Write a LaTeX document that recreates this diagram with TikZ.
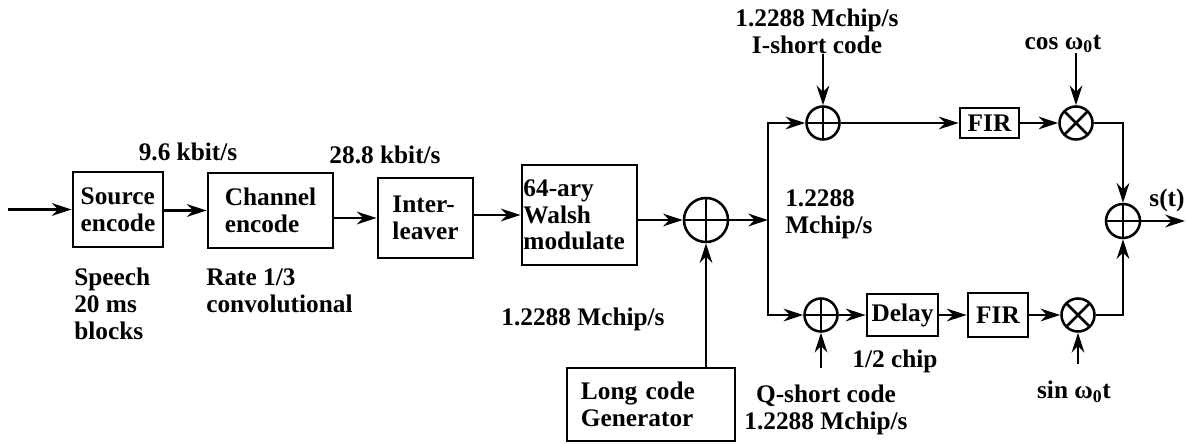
\documentclass[tikz,border=0pt]{standalone}
\usepackage{fontspec}
\setmainfont{Liberation Serif}
\usetikzlibrary{arrows.meta}

\begin{document}
\begin{tikzpicture}[
    x=0.025cm, y=-0.025cm,
    >={Stealth[length=14pt, width=9pt]},
    font=\fontsize{18}{19}\selectfont\bfseries,
    line/.style  = {line width=2pt},
    block/.style = {draw, line width=2pt, align=left, inner sep=2pt},
    lbl/.style   = {inner sep=0pt, align=center},
    adder/.style = {circle, draw, line width=1.8pt, minimum size=0.825cm, inner sep=0pt,
                    path picture={\draw[line width=1.8pt]
                      (path picture bounding box.north) -- (path picture bounding box.south)
                      (path picture bounding box.west) -- (path picture bounding box.east);}},
    mixer/.style = {circle, draw, line width=1.8pt, minimum size=0.825cm, inner sep=0pt,
                    path picture={\draw[line width=1.8pt]
                      (path picture bounding box.north west) -- (path picture bounding box.south east)
                      (path picture bounding box.south west) -- (path picture bounding box.north east);}}
]
\useasboundingbox (0,0) rectangle (1187,444);

% Speech path: source -> channel coder -> interleaver -> Walsh
\node[block, minimum width=2.25cm, minimum height=1.875cm] (src) at (118,209.5) {Source\\encode};
\node[block, minimum width=3.125cm, minimum height=1.875cm] (chan) at (270.5,210.5) {Channel\\encode};
\node[block, minimum width=2.375cm, minimum height=2cm] (inter) at (425.5,218) {Inter-\\leaver};
\node[block, minimum width=2.875cm, minimum height=2.5cm, text width=2.8cm, inner xsep=1pt] (walsh) at (579.5,215) {64-ary\\Walsh\\modulate};
\node[adder, minimum size=1.1cm] (xor) at (706,220) {};
\node[block, minimum width=4.2cm, minimum height=1.825cm, text width=3.5cm] (long) at (651,404.5) {Long code\\Generator};

\coordinate (in) at (8,209.5);
\draw[->, line] (in) -- (src.west);
\foreach \a/\b in {src/chan, chan/inter, inter/walsh, walsh/xor}
    \draw[->, line] (\a.east |- \b.west) -- (\b.west);
\draw[->, line] (xor |- long.north) -- (xor.south);

% Split into I and Q branches
\coordinate (split) at (768,220);
\node[adder] (iadd) at (823,123) {};
\node[adder] (qadd) at (821,315) {};
\draw[->, line] (xor.east) -- (split);
\foreach \b in {iadd, qadd}
    \draw[->, line] (split) |- (\b.west);

\node[block, minimum width=1.475cm, minimum height=0.75cm, inner sep=1pt] (fir1) at (989.5,123) {FIR};
\node[mixer] (cmul) at (1076,123) {};
\node[block, minimum width=1.775cm, minimum height=1.05cm] (delay) at (902.5,315) {Delay};
\node[block, minimum width=1.5cm, minimum height=1.1cm] (fir2) at (998,315) {FIR};
\node[mixer] (smul) at (1078,315) {};
\node[adder, minimum size=0.85cm] (oadd) at (1123,221) {};

\foreach \a/\b in {iadd/fir1, fir1/cmul, qadd/delay, delay/fir2, fir2/smul}
    \draw[->, line] (\a.east) -- (\b.west);
\draw[->, line] (cmul.east) -| (oadd.north);
\draw[->, line] (smul.east) -| (oadd.south);
\coordinate (out) at (1185,221);
\draw[->, line] (oadd.east) -- (out);

% Rates and annotations
\node[lbl] (rate1) at (188,152) {9.6 kbit/s};
\node[lbl] (rate2) at (385,155) {28.8 kbit/s};
\node[lbl, align=left, anchor=west] (speech) at (74,304) {Speech\\20 ms\\blocks};
\node[lbl, align=left, anchor=west] (conv) at (206,291) {Rate 1/3\\convolutional};
\node[lbl] (chiprate) at (583,319) {1.2288 Mchip/s};
\node[lbl, align=left, anchor=west] (splitrate) at (785,214) {1.2288\\Mchip/s};
\node[lbl] (icode) at (817,31) {1.2288 Mchip/s\\I-short code};
\node[lbl] (cos) at (1063,44) {cos ω\textsubscript{0}t};
\node[lbl] (st) at (1167,200) {s(t)};
\node[lbl] (half) at (895,361) {1/2 chip};
\node[lbl] (qcode) at (826,410) {Q-short code\\1.2288 Mchip/s};
\node[lbl] (sin) at (1074,392) {sin ω\textsubscript{0}t};

\draw[->, line] (icode.south -| iadd) -- (iadd.north);
\draw[->, line] (cos.south -| cmul) -- (cmul.north);
\draw[->, line, shorten <=12pt] (qcode.north -| qadd) -- (qadd.south);
\draw[->, line, shorten <=12pt] (sin.north -| smul) -- (smul.south);

\end{tikzpicture}
\end{document}
